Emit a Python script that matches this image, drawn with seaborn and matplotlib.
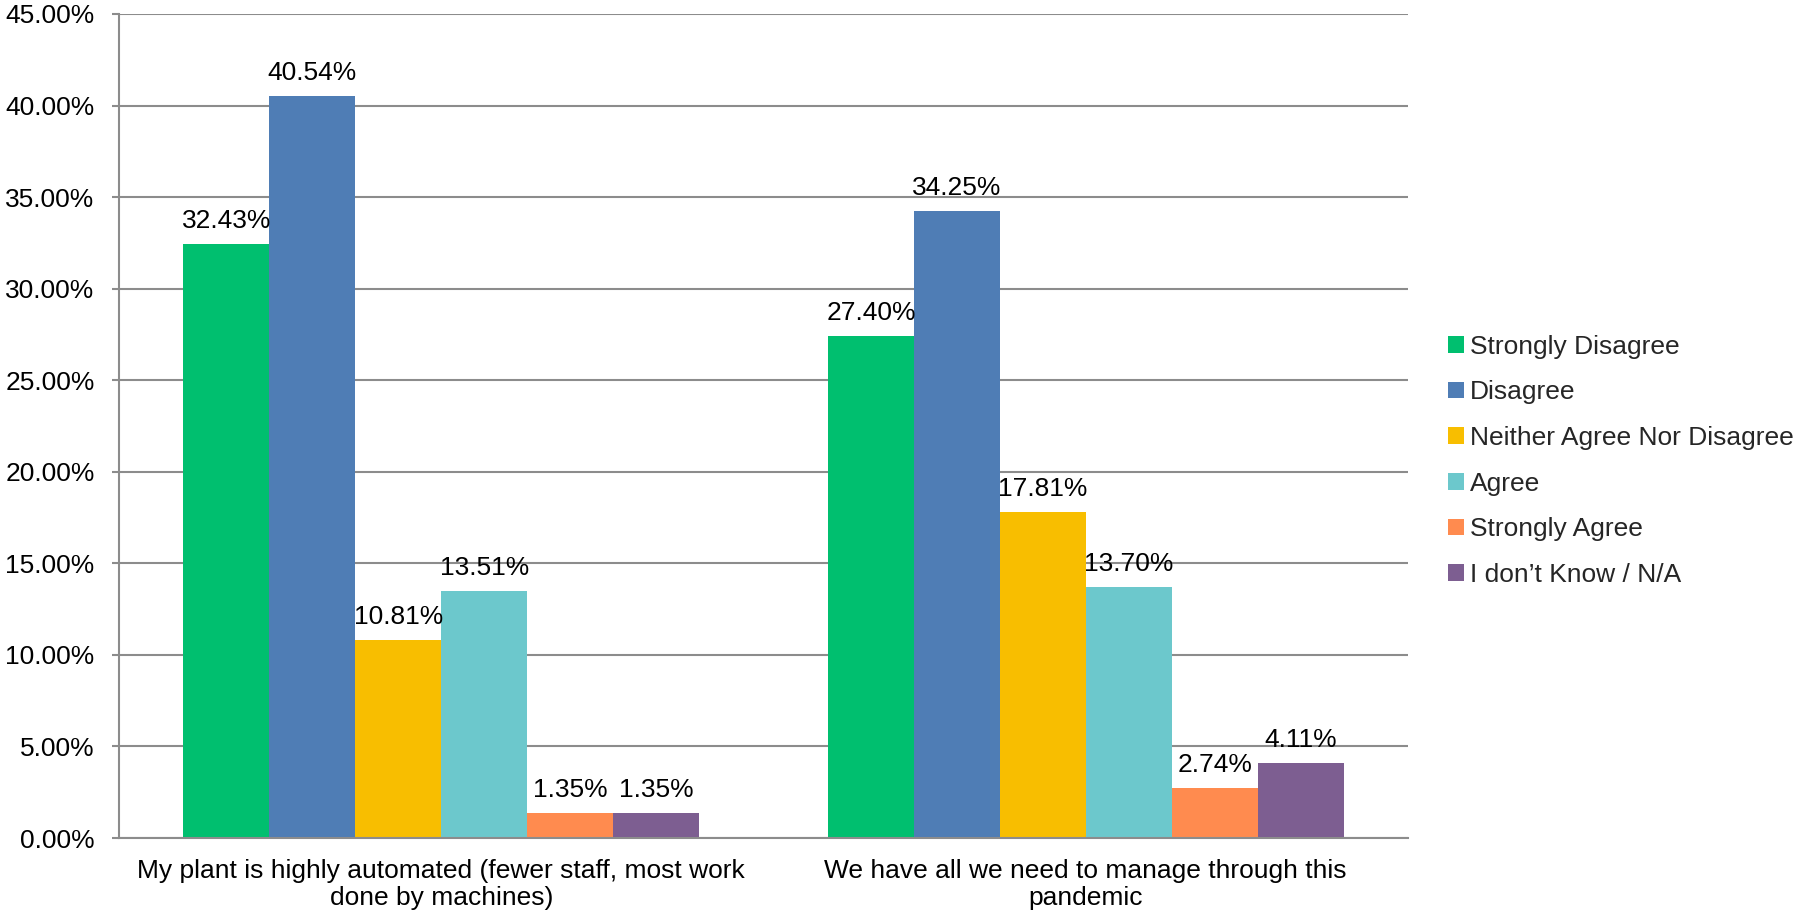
import matplotlib
matplotlib.use("Agg")
import matplotlib.pyplot as plt
import seaborn as sns
import pandas as pd

# Survey statements and response shares (percent)
statements = [
    "My plant is highly automated (fewer staff, most work\ndone by machines)",
    "We have all we need to manage through this\npandemic",
]
responses = [
    "Strongly Disagree",
    "Disagree",
    "Neither Agree Nor Disagree",
    "Agree",
    "Strongly Agree",
    "I don\u2019t Know / N/A",
]
automated_pct = [32.43, 40.54, 10.81, 13.51, 1.35, 1.35]
pandemic_pct = [27.40, 34.25, 17.81, 13.70, 2.74, 4.11]
colors = ["#00BF6F", "#4F7DB5", "#F8BE00", "#6CC8CC", "#FF8B4F", "#7D5E91"]

df = pd.DataFrame({
    "statement": [statements[0]] * len(responses) + [statements[1]] * len(responses),
    "response": responses * 2,
    "pct": automated_pct + pandemic_pct,
})

sns.set_theme(style="white")
plt.rcParams["font.family"] = ["Liberation Sans", "DejaVu Sans"]
FS = 19

fig = plt.figure(figsize=(18, 9.16), dpi=100)
ax = fig.add_axes([119 / 1800, 78 / 916, (1408 - 119) / 1800, (838 - 14) / 916])

sns.barplot(data=df, x="statement", y="pct", hue="response", hue_order=responses,
            order=statements, palette=colors, width=0.8, gap=0, saturation=1,
            errorbar=None, ax=ax, legend=True, linewidth=0)

grid_color = "#8C8C8C"
ax.set_ylim(0, 45)
ax.set_xlim(-0.5, 1.5)
ax.set_yticks(range(0, 46, 5))
ax.set_yticklabels([f"{v:.2f}%" for v in range(0, 46, 5)], fontsize=FS, color="black")
ax.yaxis.grid(True, color=grid_color, linewidth=1.5)
ax.set_axisbelow(True)
ax.set_xlabel("")
ax.set_ylabel("")

# category labels centred, ticks at the category boundaries
ax.set_xticks([0, 1])
ax.set_xticklabels(statements, fontsize=FS, color="black", linespacing=1.15)
ax.tick_params(axis="x", which="major", length=0, pad=15)
ax.set_xticks([-0.5, 0.5, 1.5], minor=True)
ax.tick_params(axis="x", which="minor", length=7, width=1.5, color=grid_color, direction="out")
ax.tick_params(axis="y", length=5, width=1.5, color=grid_color, direction="out", left=True, pad=12.5)

for side in ["top", "right"]:
    ax.spines[side].set_visible(False)
for side in ["left", "bottom"]:
    ax.spines[side].set_color(grid_color)
    ax.spines[side].set_linewidth(1.5)

for container in ax.containers:
    ax.bar_label(container, fmt="%.2f%%", padding=8, fontsize=FS, color="black")

handles, labels = ax.get_legend_handles_labels()
ax.legend(handles, labels, loc="center left", bbox_to_anchor=(1424 / 1800, 0.497),
          bbox_transform=fig.transFigure, frameon=False, fontsize=FS,
          handlelength=0.6, handleheight=0.6, handletextpad=0.25, labelspacing=0.82)

fig.savefig("out.png", dpi=100)
